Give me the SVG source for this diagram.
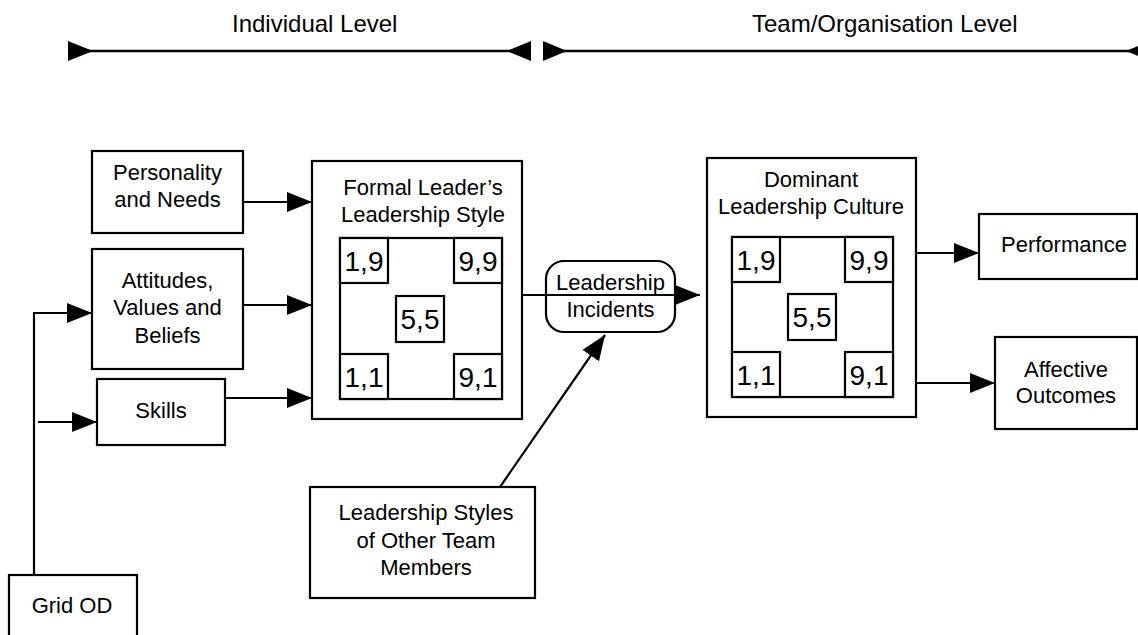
<svg xmlns="http://www.w3.org/2000/svg" width="1138" height="635" viewBox="0 0 1138 635">
<style>
  .box { fill: #fff; stroke: #000; stroke-width: 2.2; }
  .cell { fill: #fff; stroke: #000; stroke-width: 2.2; }
  .t { font-family: "Liberation Sans", Arial, sans-serif; font-size: 22px; fill: #000; text-anchor: middle; }
  .n { font-family: "Liberation Sans", Arial, sans-serif; font-size: 28px; fill: #000; text-anchor: middle; }
  .lvl { font-family: "Liberation Sans", Arial, sans-serif; font-size: 24px; fill: #000; }
  .c { fill: none; stroke: #000; stroke-width: 2.2; }
  .bar { fill: none; stroke: #000; stroke-width: 2.6; }
  .head { fill: #000; stroke: none; }
</style>
<defs>
  <marker id="arr" markerUnits="userSpaceOnUse" markerWidth="26" markerHeight="20" refX="25" refY="10" orient="auto">
    <path d="M0,0 L25,10 L0,20 z" fill="#000"/>
  </marker>
</defs>

<g id="levels">
  <text class="lvl" x="232" y="32">Individual Level</text>
  <text class="lvl" x="752" y="32">Team/Organisation Level</text>
  <line class="bar" x1="68" y1="51" x2="531" y2="51"/>
  <polygon class="head" points="68,41 93,51 68,61"/>
  <polygon class="head" points="531,41 507,51 531,61"/>
  <line class="bar" x1="543" y1="51" x2="1138" y2="51"/>
  <polygon class="head" points="543,41 567,51 543,61"/>
  <polygon class="head" points="1150,41 1126,51 1150,61"/>
</g>

<g id="personality">
  <rect class="box" x="92" y="151" width="151" height="82"/>
  <text class="t" x="167.5" y="180">Personality</text>
  <text class="t" x="167.5" y="207">and Needs</text>
</g>

<g id="attitudes">
  <rect class="box" x="92" y="249" width="151" height="120"/>
  <text class="t" x="167.5" y="288">Attitudes,</text>
  <text class="t" x="167.5" y="315">Values and</text>
  <text class="t" x="167.5" y="343">Beliefs</text>
</g>

<g id="skills">
  <rect class="box" x="97" y="379" width="128" height="66"/>
  <text class="t" x="161" y="418">Skills</text>
</g>

<g id="grid-od">
  <rect class="box" x="9" y="575" width="128" height="70"/>
  <text class="t" x="72" y="613">Grid OD</text>
</g>

<g id="formal-leader">
  <rect class="box" x="312" y="161" width="210" height="258"/>
  <text class="t" x="423" y="195">Formal Leader’s</text>
  <text class="t" x="423" y="222">Leadership Style</text>
  <rect class="cell" x="340" y="238" width="162" height="161"/>
  <rect class="cell" x="340" y="238" width="48" height="45"/>
  <rect class="cell" x="454" y="238" width="48" height="45"/>
  <rect class="cell" x="396" y="296" width="48" height="46"/>
  <rect class="cell" x="340" y="354" width="48" height="45"/>
  <rect class="cell" x="454" y="354" width="48" height="45"/>
  <text class="n" x="364" y="271">1,9</text>
  <text class="n" x="478" y="271">9,9</text>
  <text class="n" x="420" y="329">5,5</text>
  <text class="n" x="364" y="387">1,1</text>
  <text class="n" x="478" y="387">9,1</text>
</g>

<g id="leadership-incidents">
  <rect class="box" x="546" y="261" width="129" height="71" rx="18" ry="18"/>
  <text class="t" x="610.5" y="290">Leadership</text>
  <text class="t" x="610.5" y="317">Incidents</text>
</g>

<g id="dominant-culture">
  <rect class="box" x="707" y="158" width="209" height="259"/>
  <text class="t" x="811" y="187">Dominant</text>
  <text class="t" x="811" y="214">Leadership Culture</text>
  <rect class="cell" x="732" y="237" width="161" height="160"/>
  <rect class="cell" x="732" y="237" width="48" height="45"/>
  <rect class="cell" x="845" y="237" width="48" height="45"/>
  <rect class="cell" x="788" y="294" width="48" height="46"/>
  <rect class="cell" x="732" y="352" width="48" height="45"/>
  <rect class="cell" x="845" y="352" width="48" height="45"/>
  <text class="n" x="756" y="270">1,9</text>
  <text class="n" x="869" y="270">9,9</text>
  <text class="n" x="812" y="327">5,5</text>
  <text class="n" x="756" y="385">1,1</text>
  <text class="n" x="869" y="385">9,1</text>
</g>

<g id="performance">
  <rect class="box" x="979" y="214" width="158" height="65"/>
  <text class="t" x="1064" y="252">Performance</text>
</g>

<g id="affective-outcomes">
  <rect class="box" x="995" y="337" width="142" height="92"/>
  <text class="t" x="1066" y="377">Affective</text>
  <text class="t" x="1066" y="403">Outcomes</text>
</g>

<g id="other-styles">
  <rect class="box" x="310" y="487" width="225" height="111"/>
  <text class="t" x="426" y="520">Leadership Styles</text>
  <text class="t" x="426" y="548">of Other Team</text>
  <text class="t" x="426" y="575">Members</text>
</g>

<g id="connectors">
  <line class="c" x1="243" y1="202" x2="312" y2="202" marker-end="url(#arr)"/>
  <line class="c" x1="243" y1="305" x2="312" y2="305" marker-end="url(#arr)"/>
  <line class="c" x1="225" y1="398" x2="312" y2="398" marker-end="url(#arr)"/>
  <polyline class="c" points="34,575 34,313 92,313" marker-end="url(#arr)"/>
  <line class="c" x1="38" y1="422" x2="97" y2="422" marker-end="url(#arr)"/>
  <line class="c" x1="522" y1="295" x2="700" y2="295" marker-end="url(#arr)"/>
  <line class="c" x1="500" y1="487" x2="605" y2="335" marker-end="url(#arr)"/>
  <line class="c" x1="916" y1="253" x2="979" y2="253" marker-end="url(#arr)"/>
  <line class="c" x1="916" y1="383" x2="995" y2="383" marker-end="url(#arr)"/>
</g>
</svg>
